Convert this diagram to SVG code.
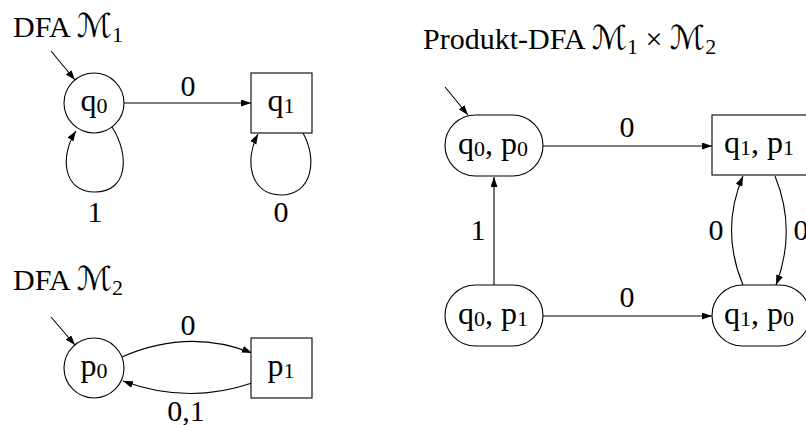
<svg xmlns="http://www.w3.org/2000/svg" width="806" height="425" viewBox="0 0 806 425">
<defs>
<marker id="ah" markerUnits="userSpaceOnUse" markerWidth="11" markerHeight="8" refX="10" refY="3.5" orient="auto">
<path d="M0,0 L10,3.5 L0,7 z" fill="#000"/>
</marker>
<style>
.node{fill:#fff;stroke:#000;stroke-width:1.1}
.edge{fill:none;stroke:#000;stroke-width:1.1;marker-end:url(#ah)}
</style>
</defs>
<rect width="806" height="425" fill="#fff"/>

<g id="titles" font-family="Liberation Serif" font-size="30" fill="#000">
<text x="13" y="37">DFA <tspan font-family="DejaVu Sans" font-size="33">ℳ</tspan><tspan font-size="22" dy="5">1</tspan></text>
<text x="13" y="290">DFA <tspan font-family="DejaVu Sans" font-size="33">ℳ</tspan><tspan font-size="22" dy="5">2</tspan></text>
<text x="423" y="49">Produkt-DFA <tspan font-family="DejaVu Sans" font-size="33">ℳ</tspan><tspan font-size="22" dy="5">1</tspan><tspan dy="-5"> × </tspan><tspan font-family="DejaVu Sans" font-size="33">ℳ</tspan><tspan font-size="22" dy="5">2</tspan></text>
</g>

<g id="edges">
<line class="edge" x1="51" y1="51" x2="75" y2="80"/>
<line class="edge" x1="124" y1="103" x2="251" y2="103"/>
<path class="edge" d="M112,127 C130,155 128,192 95,192 C62,192 60,155 76,131"/>
<path class="edge" d="M303,133 C318,160 312,195 281,195 C250,195 244,160 258,134"/>
<line class="edge" x1="51" y1="317" x2="75" y2="345"/>
<path class="edge" d="M122,357 Q188,328 252,353"/>
<path class="edge" d="M252,383 Q188,405 123,381"/>
<line class="edge" x1="445" y1="87" x2="468" y2="115"/>
<line class="edge" x1="543" y1="146" x2="712" y2="146"/>
<line class="edge" x1="542" y1="316" x2="712" y2="316"/>
<line class="edge" x1="494" y1="285" x2="494" y2="177"/>
<path class="edge" d="M743,285 Q720,230 743,176"/>
<path class="edge" d="M775,176 Q797,230 776,285"/>
</g>

<g id="edge-labels" font-family="Liberation Serif" font-size="30" fill="#000" text-anchor="middle">
<text x="188" y="96">0</text>
<text x="95" y="222">1</text>
<text x="281" y="222">0</text>
<text x="188" y="335">0</text>
<text x="186" y="421">0,1</text>
<text x="627" y="137">0</text>
<text x="627" y="307">0</text>
<text x="478" y="240">1</text>
<text x="716" y="240">0</text>
<text x="801" y="240">0</text>
</g>

<g id="nodes" font-family="Liberation Serif" font-size="32" fill="#000" text-anchor="middle">
<g id="q0"><circle class="node" cx="94" cy="103" r="30"/><text x="94" y="111">q<tspan font-size="22" dy="2">0</tspan></text></g>
<g id="q1"><rect class="node" x="251" y="73" width="61" height="60"/><text x="281" y="111">q<tspan font-size="22" dy="2">1</tspan></text></g>
<g id="p0"><circle class="node" cx="94" cy="368" r="30"/><text x="94" y="376">p<tspan font-size="22" dy="2">0</tspan></text></g>
<g id="p1"><rect class="node" x="251" y="338" width="61" height="60"/><text x="281" y="376">p<tspan font-size="22" dy="2">1</tspan></text></g>
<g id="q0p0"><rect class="node" x="445" y="115" width="98" height="61" rx="30.5"/><text x="493" y="154">q<tspan font-size="22" dy="2">0</tspan><tspan dy="-2">, p</tspan><tspan font-size="22" dy="2">0</tspan></text></g>
<g id="q1p1"><rect class="node" x="712" y="115" width="98" height="60"/><text x="759" y="153">q<tspan font-size="22" dy="2">1</tspan><tspan dy="-2">, p</tspan><tspan font-size="22" dy="2">1</tspan></text></g>
<g id="q0p1"><rect class="node" x="445" y="285" width="98" height="61" rx="30.5"/><text x="493" y="324">q<tspan font-size="22" dy="2">0</tspan><tspan dy="-2">, p</tspan><tspan font-size="22" dy="2">1</tspan></text></g>
<g id="q1p0"><rect class="node" x="712" y="285" width="98" height="61" rx="30.5"/><text x="759" y="324">q<tspan font-size="22" dy="2">1</tspan><tspan dy="-2">, p</tspan><tspan font-size="22" dy="2">0</tspan></text></g>
</g>
</svg>
